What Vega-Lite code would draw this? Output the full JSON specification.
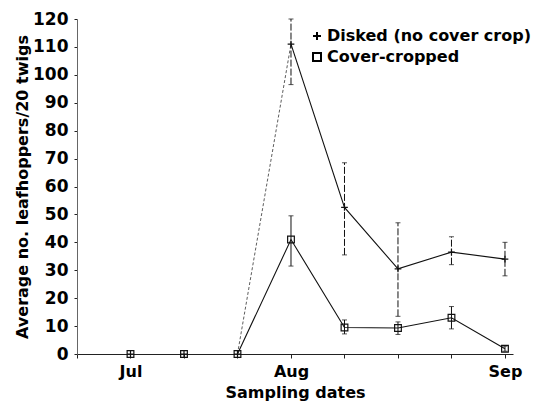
{
  "$schema": "https://vega.github.io/schema/vega-lite/v6.json",
  "width": 436,
  "height": 335,
  "autosize": "none",
  "padding": {"left": 77, "top": 19, "right": 24, "bottom": 48},
  "background": "white",
  "config": {
    "view": {"stroke": null},
    "font": "DejaVu Sans",
    "axis": {"grid": false, "domainColor": "#222", "tickColor": "#222", "labelColor": "#000", "titleColor": "#000", "labelFontWeight": "bold", "titleFontWeight": "bold", "labelFontSize": 16, "titleFontSize": 16}
  },
  "data": {
    "values": [
      {"date": 1, "treatment": "Disked (no cover crop)", "mean": 0, "lo": null, "hi": null},
      {"date": 2, "treatment": "Disked (no cover crop)", "mean": 0, "lo": null, "hi": null},
      {"date": 3, "treatment": "Disked (no cover crop)", "mean": 0, "lo": null, "hi": null},
      {"date": 4, "treatment": "Disked (no cover crop)", "mean": 111, "lo": 96.5, "hi": 120},
      {"date": 5, "treatment": "Disked (no cover crop)", "mean": 52.5, "lo": 35.5, "hi": 68.5},
      {"date": 6, "treatment": "Disked (no cover crop)", "mean": 30.5, "lo": 13.5, "hi": 47},
      {"date": 7, "treatment": "Disked (no cover crop)", "mean": 36.5, "lo": 32, "hi": 42},
      {"date": 8, "treatment": "Disked (no cover crop)", "mean": 34, "lo": 28, "hi": 40},
      {"date": 1, "treatment": "Cover-cropped", "mean": 0, "lo": null, "hi": null},
      {"date": 2, "treatment": "Cover-cropped", "mean": 0, "lo": null, "hi": null},
      {"date": 3, "treatment": "Cover-cropped", "mean": 0, "lo": null, "hi": null},
      {"date": 4, "treatment": "Cover-cropped", "mean": 41, "lo": 31.5, "hi": 49.5},
      {"date": 5, "treatment": "Cover-cropped", "mean": 9.5, "lo": 7.2, "hi": 12.2},
      {"date": 6, "treatment": "Cover-cropped", "mean": 9.3, "lo": 7, "hi": 11.5},
      {"date": 7, "treatment": "Cover-cropped", "mean": 13, "lo": 9, "hi": 17},
      {"date": 8, "treatment": "Cover-cropped", "mean": 1.9, "lo": 1, "hi": 2.8}
    ]
  },
  "encoding": {
    "x": {
      "field": "date", "type": "quantitative",
      "scale": {"domain": [0, 8.15], "nice": false, "zero": false},
      "axis": {"title": "Sampling dates", "values": [0, 1, 2, 3, 4, 5, 6, 7, 8], "labelExpr": "datum.value == 1 ? 'Jul' : datum.value == 4 ? 'Aug' : datum.value == 8 ? 'Sep' : ''", "tickSize": 4, "labelPadding": 5, "titlePadding": 5, "labelFlush": false}
    },
    "y": {
      "field": "mean", "type": "quantitative",
      "scale": {"domain": [0, 120], "nice": false},
      "axis": {"title": "Average no. leafhoppers/20 twigs", "labelFontSize": 17, "values": [0, 10, 20, 30, 40, 50, 60, 70, 80, 90, 100, 110, 120], "tickSize": 3, "labelPadding": 6, "titlePadding": 2, "domainColor": "#666"}
    }
  },
  "layer": [
    {
      "transform": [{"filter": "datum.treatment == 'Disked (no cover crop)' && datum.date >= 3 && datum.date <= 4"}],
      "mark": {"type": "line", "color": "#333", "strokeWidth": 0.8, "strokeDash": [3, 2]},
      "encoding": {}
    },
    {
      "transform": [{"filter": "datum.treatment == 'Disked (no cover crop)' && datum.date >= 4"}],
      "mark": {"type": "line", "color": "#111", "strokeWidth": 1.1},
      "encoding": {}
    },
    {
      "transform": [{"filter": "datum.treatment == 'Cover-cropped' && datum.date >= 3"}],
      "mark": {"type": "line", "color": "#111", "strokeWidth": 1.1},
      "encoding": {}
    },
    {
      "transform": [{"filter": "datum.lo != null && datum.treatment == 'Disked (no cover crop)'"}],
      "mark": {"type": "rule", "color": "#111", "strokeWidth": 1, "strokeDash": [7, 2]},
      "encoding": {
        "y": {"field": "lo", "type": "quantitative"},
        "y2": {"field": "hi"}
      }
    },
    {
      "transform": [{"filter": "datum.lo != null && datum.treatment == 'Cover-cropped'"}],
      "mark": {"type": "rule", "color": "#111", "strokeWidth": 1},
      "encoding": {
        "y": {"field": "lo", "type": "quantitative"},
        "y2": {"field": "hi"}
      }
    },
    {
      "transform": [{"filter": "datum.lo != null"}],
      "mark": {"type": "point", "shape": "stroke", "size": 25, "color": "#111", "strokeWidth": 1},
      "encoding": {"y": {"field": "lo", "type": "quantitative"}}
    },
    {
      "transform": [{"filter": "datum.lo != null"}],
      "mark": {"type": "point", "shape": "stroke", "size": 25, "color": "#111", "strokeWidth": 1},
      "encoding": {"y": {"field": "hi", "type": "quantitative"}}
    },
    {
      "mark": {"type": "point", "filled": false, "color": "#111", "strokeWidth": 1.2, "opacity": 1},
      "encoding": {
        "shape": {
          "field": "treatment", "type": "nominal",
          "scale": {"domain": ["Disked (no cover crop)", "Cover-cropped"], "range": ["M-1,0H1M0,-1V1", "square"]},
          "legend": {"title": null, "orient": "none", "legendX": 232, "legendY": 9, "labelFontSize": 16, "labelFontWeight": "bold", "labelColor": "#000", "labelLimit": 400, "symbolSize": 64, "symbolStrokeWidth": 2, "symbolStrokeColor": "#000", "rowPadding": 5, "labelOffset": 2}
        },
        "size": {"value": 45}
      }
    }
  ]
}
